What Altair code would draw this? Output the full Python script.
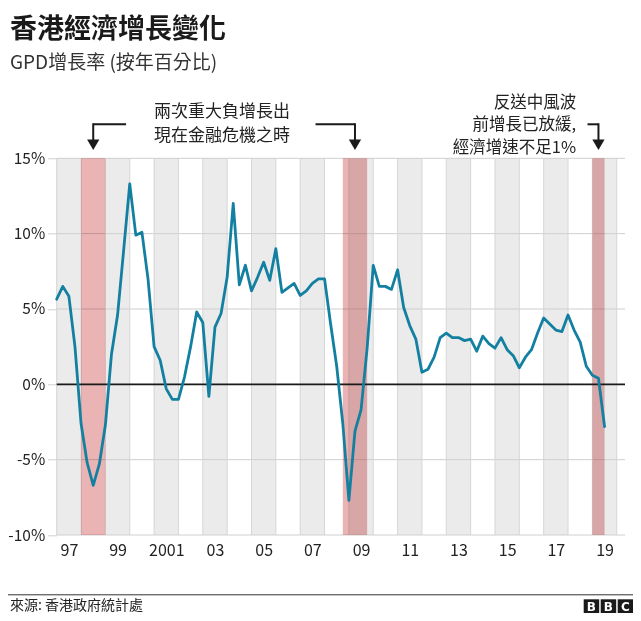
import altair as alt
import pandas as pd

# ---------------- data ----------------
# Quarterly real GDP growth, year-on-year %, 1997 Q1 .. 2019 Q3
growth = [
    5.65, 6.5, 5.85, 2.5,      # 1997
    -2.6, -5.2, -6.7, -5.3,    # 1998
    -2.7, 2.0, 4.6, 8.9,       # 1999
    13.3, 9.9, 10.1, 7.0,      # 2000
    2.5, 1.6, -0.3, -1.0,      # 2001
    -1.0, 0.5, 2.5, 4.8,       # 2002
    4.1, -0.8, 3.8, 4.7,       # 2003
    7.1, 12.0, 6.6, 7.9,       # 2004
    6.2, 7.1, 8.1, 6.9,        # 2005
    9.0, 6.1, 6.4, 6.7,        # 2006
    5.9, 6.2, 6.7, 7.0,        # 2007
    7.0, 4.0, 1.2, -2.6,       # 2008
    -7.7, -3.1, -1.7, 2.4,     # 2009
    7.9, 6.5, 6.5, 6.3,        # 2010
    7.6, 5.1, 3.9, 3.0,        # 2011
    0.8, 1.0, 1.8, 3.1,        # 2012
    3.4, 3.1, 3.1, 2.9,        # 2013
    3.0, 2.2, 3.2, 2.7,        # 2014
    2.4, 3.1, 2.3, 1.9,        # 2015
    1.1, 1.8, 2.3, 3.4,        # 2016
    4.4, 4.0, 3.6, 3.5,        # 2017
    4.6, 3.6, 2.8, 1.2,        # 2018
    0.6, 0.4, -2.8,            # 2019
]
first_year = 1997
quarter_pos = [first_year + i / 4 for i in range(len(growth))]

shaded_years = list(range(1997, 2020, 2))          # grey columns
year_edges = list(range(1997, 2021))               # vertical grid lines
red_start = [1998.0, 2008.75, 2019.0]              # negative / slowdown periods
red_end = [1999.0, 2009.75, 2019.5]

tick_years = list(range(1997, 2020, 2))
tick_labels = ["97", "99", "2001", "03", "05", "07", "09", "11", "13", "15", "17", "19"]
y_ticks = [-10, -5, 0, 5, 10, 15]
y_grid = [-10, -5, 5, 10, 15]

title = "香港經濟增長變化"
subtitle = "GPD增長率 (按年百分比)"
note_left = ["兩次重大負增長出", "現在金融危機之時"]
note_right = ["反送中風波", "前增長已放緩,", "經濟增速不足1%"]
source = "來源: 香港政府統計處"
arrow_x = [1998.5, 2009.25, 2019.25]
arrow_from = [1999.85, 2007.63, 2018.8]

# ---------------- layout ----------------
W, H = 568.3, 376.7
FONT = "Noto Sans CJK TC"
x_scale = alt.Scale(domain=[1997, 2020.34], nice=False, zero=False)
y_scale = alt.Scale(domain=[-10, 15], nice=False, zero=False)

label_expr = "''"
for yv, lab in zip(reversed(tick_years), reversed(tick_labels)):
    label_expr = f"floor(datum.value) == {yv} ? '{lab}' : ({label_expr})"

df_line = pd.DataFrame({"t": quarter_pos, "v": growth})
df_grey = pd.DataFrame({"start": shaded_years, "end": [y + 1 for y in shaded_years]})
df_edges = pd.DataFrame({"yr": year_edges})
df_red = pd.DataFrame({"start": red_start, "end": red_end})
df_grid = pd.DataFrame({"g": y_grid})
df_arrow = pd.DataFrame({"xa": arrow_x, "xf": arrow_from})
one = pd.DataFrame({"k": [0]})

grey = alt.Chart(df_grey).mark_rect(color="#ebebeb").encode(
    x=alt.X("start:Q", scale=x_scale, title=None,
            axis=alt.Axis(values=[y + 0.5 for y in tick_years], labelExpr=label_expr,
                          grid=False, ticks=False, domain=False, labelFlush=False,
                          labelFontSize=16, labelColor="#222", labelFont=FONT,
                          labelPadding=7)),
    x2="end:Q",
    y=alt.value(0), y2=alt.value(H),
)

hgrid = alt.Chart(df_grid).mark_rule(color="#cfcfcf", strokeWidth=1).encode(
    y=alt.Y("g:Q", scale=y_scale, title=None,
            axis=alt.Axis(values=y_ticks, labelExpr="datum.value + '%'",
                          grid=False, domain=False, ticks=True, tickSize=9,
                          tickColor="#cfcfcf", labelFontSize=15.5, labelColor="#222",
                          labelFont=FONT, labelPadding=3)),
    x=alt.value(0), x2=alt.value(W),
)

vgrid = alt.Chart(df_edges).mark_rule(color="#d6d6d6", strokeWidth=1).encode(
    x=alt.X("yr:Q", scale=x_scale), y=alt.value(0), y2=alt.value(H),
)

red = alt.Chart(df_red).mark_rect(color="#ebb4b4", blend="multiply").encode(
    x=alt.X("start:Q", scale=x_scale), x2="end:Q",
    y=alt.value(0), y2=alt.value(H),
)

zero = alt.Chart(one).mark_rule(color="#1a1a1a", strokeWidth=1.8).encode(
    y=alt.datum(0, scale=y_scale), x=alt.value(0), x2=alt.value(W),
)

line = alt.Chart(df_line).mark_line(color="#1380A1", strokeWidth=2.8,
                                     strokeJoin="round", strokeCap="round").encode(
    x=alt.X("t:Q", scale=x_scale), y=alt.Y("v:Q", scale=y_scale),
)

# annotation arrows
arr_h = alt.Chart(df_arrow).mark_rule(color="#1a1a1a", strokeWidth=2).encode(
    x=alt.X("xf:Q", scale=x_scale), x2="xa:Q", y=alt.value(-34),
)
arr_v = alt.Chart(df_arrow).mark_rule(color="#1a1a1a", strokeWidth=2).encode(
    x=alt.X("xa:Q", scale=x_scale), y=alt.value(-35), y2=alt.value(-17),
)
arr_head = alt.Chart(df_arrow).mark_point(shape="triangle-down", filled=True,
                                          color="#1a1a1a", size=150, opacity=1).encode(
    x=alt.X("xa:Q", scale=x_scale), y=alt.value(-13.5),
)

texts = []
def txt(s, x, y, size, align="left", weight="normal", color="#222"):
    texts.append(alt.Chart(one).mark_text(text=s, align=align, baseline="middle",
                                          fontSize=size, fontWeight=weight,
                                          font=FONT, color=color).encode(
        x=alt.value(x), y=alt.value(y)))

txt(title, -46.7, -128.5, 27, weight="bold", color="#1a1a1a")
txt(subtitle, -46.7, -95.5, 19, color="#333")
for i, s in enumerate(note_left):
    txt(s, 165.3, -46.5 + 24 * i, 17, align="center")
for i, s in enumerate(note_right):
    txt(s, 519.5, -55.5 + 22.5 * i, 16.5, align="right")
txt(source, -46.7, 447.2, 14)

footer_rule = alt.Chart(one).mark_rule(color="#333", strokeWidth=1).encode(
    x=alt.value(-48.7), x2=alt.value(576.3), y=alt.value(436.5),
)

logo = []
for i, ch in enumerate(["B", "B", "C"]):
    x0 = 527.0 + 17 * i
    logo.append(alt.Chart(one).mark_rect(color="#1a1a1a").encode(
        x=alt.value(x0), x2=alt.value(x0 + 15.5), y=alt.value(441), y2=alt.value(456.5)))
    logo.append(alt.Chart(one).mark_text(text=ch, align="center", baseline="middle",
                                         fontSize=12, fontWeight="bold", font="DejaVu Sans",
                                         color="white").encode(
        x=alt.value(x0 + 7.75), y=alt.value(449)))

chart = alt.layer(
    grey, hgrid, vgrid, red, zero, line, arr_h, arr_v, arr_head, footer_rule,
    *texts, *logo,
).properties(
    width=W, height=H,
    padding={"left": 48.7, "top": 150.3, "right": 8, "bottom": 78},
    autosize=alt.AutoSizeParams(type="none"),
    background="white",
).configure_view(stroke=None)

chart.save("out.html", embed_options={"renderer": "svg", "actions": False})
